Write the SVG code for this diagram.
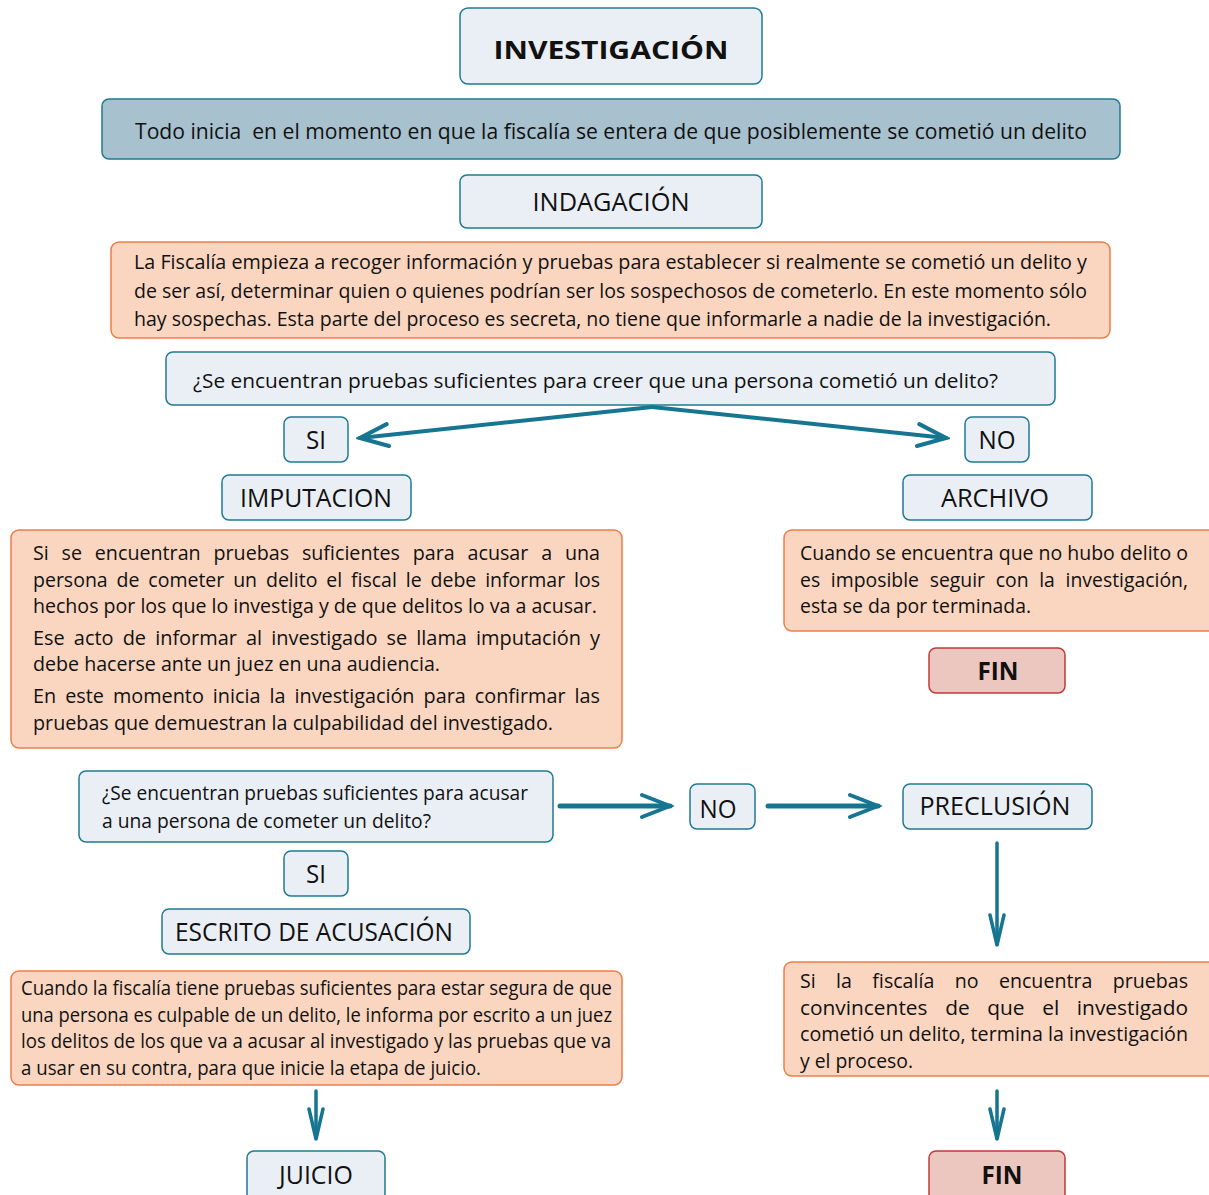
<svg xmlns="http://www.w3.org/2000/svg" width="1209" height="1195" viewBox="0 0 1209 1195">
<style>
text{font-family:"Open Sans","Noto Sans","Liberation Sans",sans-serif;fill:#111;}
.lb{fill:#eaeff6;stroke:#1f7a92;stroke-width:1.5;}
.bn{fill:#a8c1cf;stroke:#1f7a92;stroke-width:1.5;}
.or{fill:#fad6c0;stroke:#ee7d45;stroke-width:1.5;}
.fn{fill:#ecc7bf;stroke:#c0393b;stroke-width:1.5;}
.t{font-size:25px;text-anchor:middle;}
.b{font-weight:bold;}
.p{font-size:20.5px;}
.c{stroke:#167590;fill:none;stroke-linecap:round;}
</style>
<defs>
<marker id="ah" markerUnits="userSpaceOnUse" viewBox="-32 -14 36 28" refX="0" refY="0" markerWidth="36" markerHeight="28" orient="auto">
<path d="M-28,-11 L0,0 L-28,11" fill="none" stroke="#167590" stroke-width="4" stroke-linecap="round" stroke-linejoin="miter"/>
</marker>
<marker id="ahs" markerUnits="userSpaceOnUse" viewBox="-32 -14 36 28" refX="0" refY="0" markerWidth="36" markerHeight="28" orient="auto">
<path d="M-30,-7 L0,0 L-30,7" fill="none" stroke="#167590" stroke-width="3.5" stroke-linecap="round"/>
</marker>
</defs>

<g id="connectors">
<path class="c" d="M652,407 L360,438" stroke-width="4" marker-end="url(#ah)"/>
<path class="c" d="M652,407 L946,438" stroke-width="4" marker-end="url(#ah)"/>
<path class="c" d="M560,806 L670,806" stroke-width="5" marker-end="url(#ah)"/>
<path class="c" d="M768,806 L878,806" stroke-width="5" marker-end="url(#ah)"/>
<path class="c" d="M997,843 L997,945" stroke-width="3.5" marker-end="url(#ahs)"/>
<path class="c" d="M316,1091 L316,1139" stroke-width="3.5" marker-end="url(#ahs)"/>
<path class="c" d="M997,1091 L997,1139" stroke-width="3.5" marker-end="url(#ahs)"/>
</g>

<g id="investigacion"><rect class="lb" x="460" y="8" width="302" height="76" rx="8"/>
<text class="t b" x="611" y="59" font-size="33" textLength="235" lengthAdjust="spacingAndGlyphs">INVESTIGACIÓN</text></g>

<g id="inicio"><rect class="bn" x="102" y="99" width="1018" height="60" rx="7"/>
<text x="135" y="139" font-size="22.5" textLength="952" lengthAdjust="spacingAndGlyphs">Todo inicia &#160;en el momento en que la fiscalía se entera de que posiblemente se cometió un delito</text></g>

<g id="indagacion"><rect class="lb" x="460" y="175" width="302" height="53" rx="7"/>
<text class="t" x="611" y="211" textLength="157" lengthAdjust="spacingAndGlyphs">INDAGACIÓN</text></g>

<g id="indagacion-desc"><rect class="or" x="111" y="242" width="999" height="96" rx="8"/>
<text class="p" x="134" y="269" textLength="953" lengthAdjust="spacingAndGlyphs">La Fiscalía empieza a recoger información y pruebas para establecer si realmente se cometió un delito y</text>
<text class="p" x="134" y="298" textLength="953" lengthAdjust="spacingAndGlyphs">de ser así, determinar quien o quienes podrían ser los sospechosos de cometerlo. En este momento sólo</text>
<text class="p" x="134" y="326" textLength="917" lengthAdjust="spacingAndGlyphs">hay sospechas. Esta parte del proceso es secreta, no tiene que informarle a nadie de la investigación.</text></g>

<g id="pregunta1"><rect class="lb" x="166" y="352" width="889" height="53" rx="7"/>
<text class="p" x="193" y="388" textLength="805" lengthAdjust="spacingAndGlyphs">¿Se encuentran pruebas suficientes para creer que una persona cometió un delito?</text></g>

<g id="si1"><rect class="lb" x="284" y="417" width="64" height="45" rx="7"/>
<text class="t" x="316" y="449" textLength="20" lengthAdjust="spacingAndGlyphs">SI</text></g>
<g id="no1"><rect class="lb" x="965" y="417" width="64" height="45" rx="7"/>
<text class="t" x="997" y="449" textLength="37" lengthAdjust="spacingAndGlyphs">NO</text></g>

<g id="imputacion"><rect class="lb" x="222" y="475" width="189" height="45" rx="7"/>
<text class="t" x="316" y="507" textLength="152" lengthAdjust="spacingAndGlyphs">IMPUTACION</text></g>
<g id="archivo"><rect class="lb" x="903" y="475" width="189" height="45" rx="7"/>
<text class="t" x="995" y="507" textLength="108" lengthAdjust="spacingAndGlyphs">ARCHIVO</text></g>

<g id="imputacion-desc"><rect class="or" x="11" y="530" width="611" height="218" rx="8"/>
<text class="p" x="33" y="560" textLength="567" lengthAdjust="spacingAndGlyphs" word-spacing="8">Si se encuentran pruebas suficientes para acusar a una</text>
<text class="p" x="33" y="587" textLength="567" lengthAdjust="spacingAndGlyphs" word-spacing="4">persona de cometer un delito el fiscal le debe informar los</text>
<text class="p" x="33" y="613" textLength="564" lengthAdjust="spacingAndGlyphs">hechos por los que lo investiga y de que delitos lo va a acusar.</text>
<text class="p" x="33" y="645" textLength="567" lengthAdjust="spacingAndGlyphs" word-spacing="4">Ese acto de informar al investigado se llama imputación y</text>
<text class="p" x="33" y="671" textLength="407" lengthAdjust="spacingAndGlyphs">debe hacerse ante un juez en una audiencia.</text>
<text class="p" x="33" y="703" textLength="567" lengthAdjust="spacingAndGlyphs" word-spacing="4">En este momento inicia la investigación para confirmar las</text>
<text class="p" x="33" y="730" textLength="520" lengthAdjust="spacingAndGlyphs">pruebas que demuestran la culpabilidad del investigado.</text></g>

<g id="archivo-desc"><rect class="or" x="784" y="530" width="440" height="101" rx="8"/>
<text class="p" x="800" y="560" textLength="388" lengthAdjust="spacingAndGlyphs">Cuando se encuentra que no hubo delito o</text>
<text class="p" x="800" y="587" textLength="388" lengthAdjust="spacingAndGlyphs" word-spacing="6">es imposible seguir con la investigación,</text>
<text class="p" x="800" y="613" textLength="231" lengthAdjust="spacingAndGlyphs">esta se da por terminada.</text></g>

<g id="fin1"><rect class="fn" x="929" y="648" width="136" height="45" rx="7"/>
<text class="t b" x="998" y="680" textLength="41" lengthAdjust="spacingAndGlyphs">FIN</text></g>

<g id="pregunta2"><rect class="lb" x="79" y="771" width="474" height="71" rx="7"/>
<text class="p" x="102" y="800" textLength="426" lengthAdjust="spacingAndGlyphs">¿Se encuentran pruebas suficientes para acusar</text>
<text class="p" x="102" y="828" textLength="329" lengthAdjust="spacingAndGlyphs">a una persona de cometer un delito?</text></g>

<g id="no2"><rect class="lb" x="690" y="784" width="65" height="45" rx="7"/>
<text class="t" x="718" y="818" textLength="37" lengthAdjust="spacingAndGlyphs">NO</text></g>

<g id="preclusion"><rect class="lb" x="903" y="784" width="189" height="45" rx="7"/>
<text class="t" x="995" y="815" textLength="151" lengthAdjust="spacingAndGlyphs">PRECLUSIÓN</text></g>

<g id="si2"><rect class="lb" x="284" y="851" width="64" height="45" rx="7"/>
<text class="t" x="316" y="883" textLength="20" lengthAdjust="spacingAndGlyphs">SI</text></g>

<g id="escrito"><rect class="lb" x="162" y="909" width="308" height="45" rx="7"/>
<text class="t" x="314" y="941" textLength="278" lengthAdjust="spacingAndGlyphs">ESCRITO DE ACUSACIÓN</text></g>

<g id="escrito-desc"><rect class="or" x="11" y="971" width="611" height="114" rx="8"/>
<text class="p" x="21" y="995" textLength="591" lengthAdjust="spacingAndGlyphs">Cuando la fiscalía tiene pruebas suficientes para estar segura de que</text>
<text class="p" x="21" y="1022" textLength="591" lengthAdjust="spacingAndGlyphs">una persona es culpable de un delito, le informa por escrito a un juez</text>
<text class="p" x="21" y="1048" textLength="590" lengthAdjust="spacingAndGlyphs">los delitos de los que va a acusar al investigado y las pruebas que va</text>
<text class="p" x="21" y="1075" textLength="460" lengthAdjust="spacingAndGlyphs">a usar en su contra, para que inicie la etapa de juicio.</text></g>

<g id="preclusion-desc"><rect class="or" x="784" y="962" width="440" height="114" rx="8"/>
<text class="p" x="800" y="988" textLength="388" lengthAdjust="spacingAndGlyphs" word-spacing="16">Si la fiscalía no encuentra pruebas</text>
<text class="p" x="800" y="1015" textLength="388" lengthAdjust="spacingAndGlyphs" word-spacing="12">convincentes de que el investigado</text>
<text class="p" x="800" y="1041" textLength="388" lengthAdjust="spacingAndGlyphs">cometió un delito, termina la investigación</text>
<text class="p" x="800" y="1068" textLength="113" lengthAdjust="spacingAndGlyphs">y el proceso.</text></g>

<g id="juicio"><rect class="lb" x="247" y="1151" width="138" height="50" rx="7"/>
<text class="t" x="316" y="1184" textLength="74" lengthAdjust="spacingAndGlyphs">JUICIO</text></g>

<g id="fin2"><rect class="fn" x="929" y="1151" width="136" height="50" rx="7"/>
<text class="t b" x="1002" y="1184" textLength="41" lengthAdjust="spacingAndGlyphs">FIN</text></g>
</svg>
